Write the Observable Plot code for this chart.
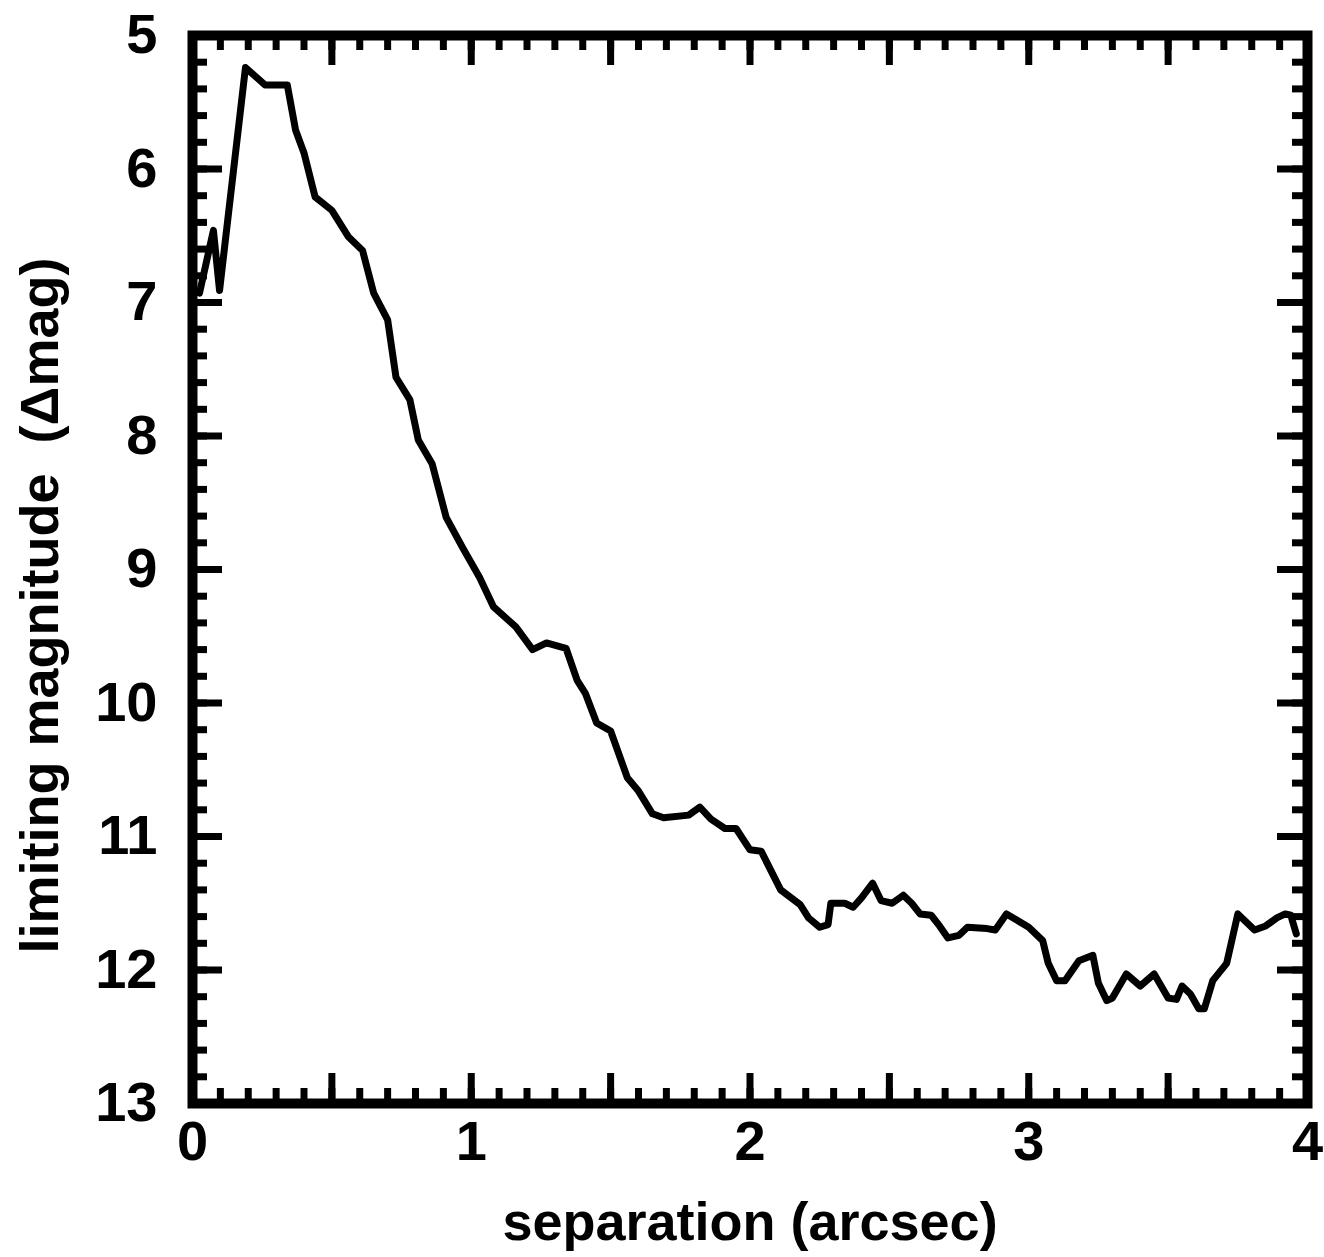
<!DOCTYPE html>
<html><head><meta charset="utf-8">
<script src="https://cdn.jsdelivr.net/npm/d3@7"></script>
<script src="https://cdn.jsdelivr.net/npm/@observablehq/plot@0.6"></script>
<style>
body{margin:0;background:#fff}
svg{display:block}
svg text{white-space:pre}
</style>
</head><body><div id="chart"></div>
<script>
// Separation (arcsec) and limiting magnitude (Δmag)
const separation = [0.025,0.075,0.097,0.19,0.26,0.34,0.37,0.40,0.44,0.50,0.56,0.61,0.65,0.70,0.73,0.78,0.81,0.86,0.91,0.97,
  1.03,1.08,1.16,1.22,1.27,1.34,1.38,1.41,1.45,1.50,1.56,1.60,1.65,1.69,1.78,1.82,1.86,1.91,1.95,
  2.00,2.04,2.11,2.18,2.21,2.25,2.28,2.29,2.34,2.37,2.40,2.44,2.47,2.51,2.55,2.58,2.61,2.65,2.68,2.71,2.75,2.78,2.85,2.88,2.90,2.92,2.96,
  3.00,3.05,3.07,3.10,3.13,3.18,3.23,3.25,3.28,3.30,3.35,3.40,3.45,3.50,3.53,3.55,3.58,3.61,3.63,3.66,3.71,3.75,3.81,3.85,3.89,3.92,3.94,3.96];
const deltaMag = [6.93,6.46,6.91,5.24,5.37,5.37,5.71,5.88,6.21,6.31,6.51,6.61,6.93,7.13,7.56,7.73,8.03,8.21,8.61,8.84,
  9.06,9.28,9.43,9.60,9.55,9.59,9.83,9.93,10.15,10.21,10.56,10.66,10.83,10.86,10.84,10.78,10.87,10.94,10.94,
  11.10,11.11,11.40,11.51,11.61,11.68,11.66,11.50,11.50,11.53,11.46,11.35,11.48,11.50,11.44,11.50,11.58,11.59,11.67,11.76,11.74,11.68,11.69,11.70,11.64,11.58,11.63,
  11.68,11.78,11.95,12.08,12.08,11.93,11.89,12.10,12.23,12.21,12.03,12.12,12.03,12.21,12.22,12.12,12.18,12.29,12.29,12.08,11.95,11.58,11.70,11.67,11.61,11.58,11.59,11.73];

const xTickLabels = [0, 1, 2, 3, 4];
const yTickLabels = [5, 6, 7, 8, 9, 10, 11, 12, 13];
const xMajorTicks = [0, 0.5, 1, 1.5, 2, 2.5, 3, 3.5, 4];
const xMinorTicks = d3.range(0, 41).map(i => i / 10);
const yMajorTicks = [5, 6, 7, 8, 9, 10, 11, 12, 13];
const yMinorTicks = d3.range(0, 41).map(i => 5 + i / 5);
const xTitle = "separation (arcsec)";
const yTitle = "limiting magnitude  (Δmag)";

const data = separation.map((s, i) => ({sep: s, mag: deltaMag[i]}));

const width = 1324, height = 1257;
const mL = 192, mR = 17, mT = 35, mB = 154;
const W = width - mL - mR, H = height - mT - mB;
const font = "Liberation Sans, Arial, Helvetica, sans-serif";
const fs = 54;
const tfs = 56;
const tw = 7;
const fmt = d3.format("d");

const chart = Plot.plot({
  width, height,
  marginLeft: mL, marginRight: mR, marginTop: mT, marginBottom: mB,
  style: {fontFamily: font, background: "#fff", color: "#000"},
  x: {domain: [0, 4], label: null},
  y: {domain: [13, 5], label: null},
  marks: [
    Plot.line(data, {x: "sep", y: "mag", stroke: "#000", strokeWidth: 7, strokeLinejoin: "round", clip: true}),
    // inward ticks, bottom & top
    Plot.tickX(xMinorTicks, {x: d => d, insetTop: H - 15, stroke: "#000", strokeWidth: tw}),
    Plot.tickX(xMinorTicks, {x: d => d, insetBottom: H - 15, stroke: "#000", strokeWidth: tw}),
    Plot.tickX(xMajorTicks, {x: d => d, insetTop: H - 30, stroke: "#000", strokeWidth: tw}),
    Plot.tickX(xMajorTicks, {x: d => d, insetBottom: H - 30, stroke: "#000", strokeWidth: tw}),
    // inward ticks, left & right
    Plot.tickY(yMinorTicks, {y: d => d, insetRight: W - 15, stroke: "#000", strokeWidth: tw}),
    Plot.tickY(yMinorTicks, {y: d => d, insetLeft: W - 15, stroke: "#000", strokeWidth: tw}),
    Plot.tickY(yMajorTicks, {y: d => d, insetRight: W - 30, stroke: "#000", strokeWidth: tw}),
    Plot.tickY(yMajorTicks, {y: d => d, insetLeft: W - 30, stroke: "#000", strokeWidth: tw}),
    Plot.frame({stroke: "#000", strokeWidth: 10}),
    Plot.axisX(xTickLabels, {anchor: "bottom", tickSize: 0, tickPadding: 17, tickFormat: fmt, fontSize: tfs, fontWeight: "bold", label: null, fill: "#000"}),
    Plot.axisY(yTickLabels, {anchor: "left", tickSize: 0, tickPadding: 35, tickFormat: fmt, fontSize: tfs, fontWeight: "bold", label: null, fill: "#000"}),
    Plot.text([xTitle], {text: d => d, frameAnchor: "bottom", dy: 119, fontSize: fs, fontWeight: "bold", textAnchor: "middle", lineAnchor: "middle", fill: "#000"}),
    Plot.text([yTitle], {text: d => d, frameAnchor: "left", dx: -152, dy: 36, rotate: -90, fontSize: fs, fontWeight: "bold", textAnchor: "middle", lineAnchor: "middle", fill: "#000"})
  ]
});
document.getElementById("chart").appendChild(chart);
</script>
</body></html>
